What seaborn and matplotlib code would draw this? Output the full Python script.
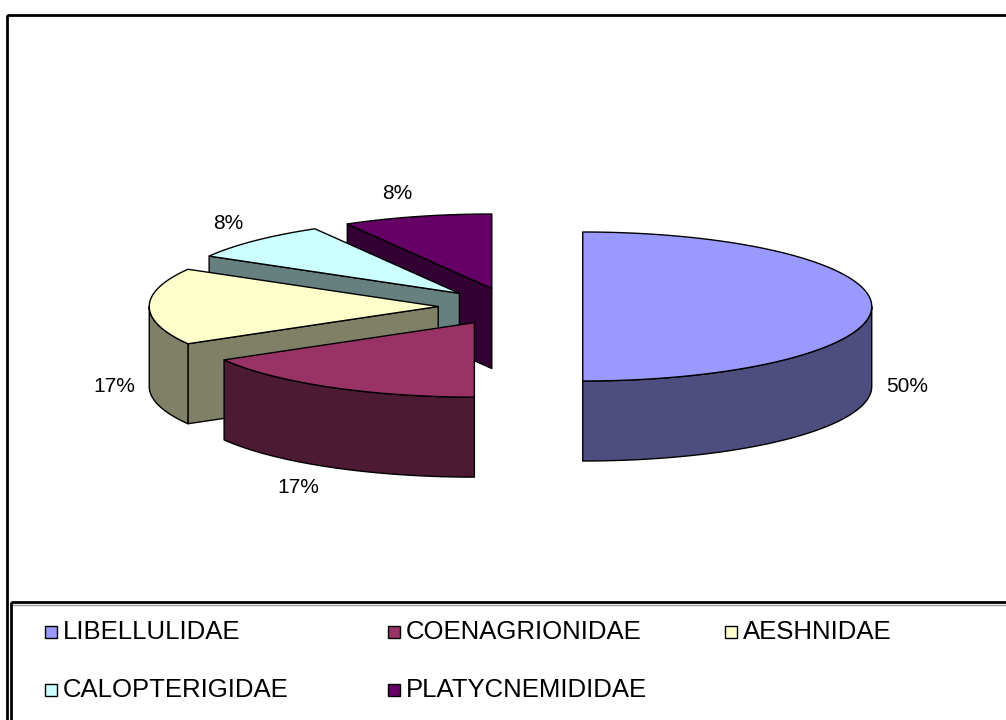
import numpy as np
import matplotlib
matplotlib.use("Agg")
import matplotlib.pyplot as plt
from matplotlib.patches import Polygon, Rectangle
import seaborn as sns

# ---------------- data ----------------
families = ["LIBELLULIDAE", "COENAGRIONIDAE", "AESHNIDAE", "CALOPTERIGIDAE", "PLATYCNEMIDIDAE"]
counts = [6, 2, 2, 1, 1]
top_colors = ["#9999FF", "#993366", "#FFFFCC", "#CCFFFF", "#660066"]

# ---------------- style ----------------
sns.set_theme(style="white")
plt.rcParams['font.family'] = ['Liberation Sans', 'DejaVu Sans']

palette = sns.color_palette(top_colors)
side_colors = [tuple(c * 0.5 for c in col) for col in palette]

# pseudo-3D pie layout (pixel space)
CX, CY = 510.5, 306.5     # centre of un-exploded pie (top face)
A, B = 289.0, 74.5        # ellipse semi axes
DEPTH = 80.0
EXPLODE = 0.25
LBL_GAP, LBL_HH = 14, 10

fig = plt.figure(figsize=(10.06, 7.2), dpi=100)
ax = fig.add_axes([0, 0, 1, 1])
ax.set_xlim(0, 1006)
ax.set_ylim(720, 0)
ax.axis('off')

vals = np.asarray(counts, dtype=float)
fracs = vals / vals.sum()
cum = np.concatenate([[0.0], np.cumsum(fracs)])


def point(theta, off, r=1.0, z=0.0):
    t = np.deg2rad(theta)
    return (off[0] + r * A * np.cos(t), off[1] - r * B * np.sin(t) + z)


slices = []
for i in range(len(vals)):
    hi = 90 - 360 * cum[i]
    lo = 90 - 360 * cum[i + 1]
    mid = (hi + lo) / 2
    m = np.deg2rad(mid)
    off = (CX + EXPLODE * A * np.cos(m), CY - EXPLODE * B * np.sin(m))
    slices.append(dict(i=i, hi=hi, lo=lo, mid=mid, off=off))

# back to front
order = sorted(slices, key=lambda s: -np.sin(np.deg2rad(s['mid'])))
z = 2
for s in order:
    i, hi, lo, off = s['i'], s['hi'], s['lo'], s['off']
    ec = dict(edgecolor='black', linewidth=1.0, joinstyle='round')
    # radial faces
    for t, vis in ((hi, np.cos(np.deg2rad(hi)) < -1e-6), (lo, np.cos(np.deg2rad(lo)) > 1e-6)):
        if vis:
            pts = [point(t, off, 0), point(t, off, 1), point(t, off, 1, DEPTH), point(t, off, 0, DEPTH)]
            ax.add_patch(Polygon(pts, closed=True, facecolor=side_colors[i], zorder=z, **ec))
            z += 1
    # curved front side
    for k in (-1, 0, 1):
        a0 = max(lo, -180 + 360 * k)
        a1 = min(hi, 360 * k)
        if a1 > a0:
            th = np.linspace(a0, a1, 120)
            topp = [point(t, off) for t in th]
            botp = [point(t, off, 1, DEPTH) for t in th[::-1]]
            ax.add_patch(Polygon(topp + botp, closed=True, facecolor=side_colors[i], zorder=z, **ec))
            z += 1
    # top face
    th = np.linspace(hi, lo, 200)
    pts = [point(0, off, 0)] + [point(t, off) for t in th]
    ax.add_patch(Polygon(pts, closed=True, facecolor=palette[i], zorder=z, **ec))
    z += 1

    # percentage label
    lbl = f"{round(100 * fracs[i]):.0f}%"
    m = np.deg2rad(s['mid'])
    front = np.sin(m) < -1e-6 or abs(np.sin(m)) < 1e-6
    rx, ry = point(s['mid'], off, 1, DEPTH if front else 0)
    ex, ey = A * np.cos(m), B * np.sin(m)
    ux = ex / np.hypot(ex, ey)
    hw = 7 * len(lbl)
    ax.text(rx + ux * (LBL_GAP + hw), ry - np.sin(m) * (LBL_GAP + LBL_HH), lbl,
            ha='center', va='center', fontsize=15, color='black', zorder=50)

# chart frame
ax.add_patch(Rectangle((7.5, 14.5), 1200, 900, fill=False, edgecolor='black', linewidth=2, zorder=60))
# legend frame
ax.add_patch(Rectangle((11, 602), 1200, 300, fill=False, edgecolor='black', linewidth=2, zorder=60))
ax.plot([11, 1006], [604.5, 604.5], color='#999999', lw=1, zorder=59)

# legend entries
col_x = [63, 406, 743]
row_y = [632, 690]
for i, name in enumerate(families):
    x = col_x[i % 3]
    y = row_y[i // 3]
    ax.add_patch(Rectangle((x - 18, y - 6), 12, 12, facecolor=palette[i], edgecolor='black',
                           linewidth=1, zorder=61))
    ax.text(x, y, name, ha='left', va='center', fontsize=18.5, color='black', zorder=61)

fig.savefig("out.png", dpi=100, facecolor='white')
